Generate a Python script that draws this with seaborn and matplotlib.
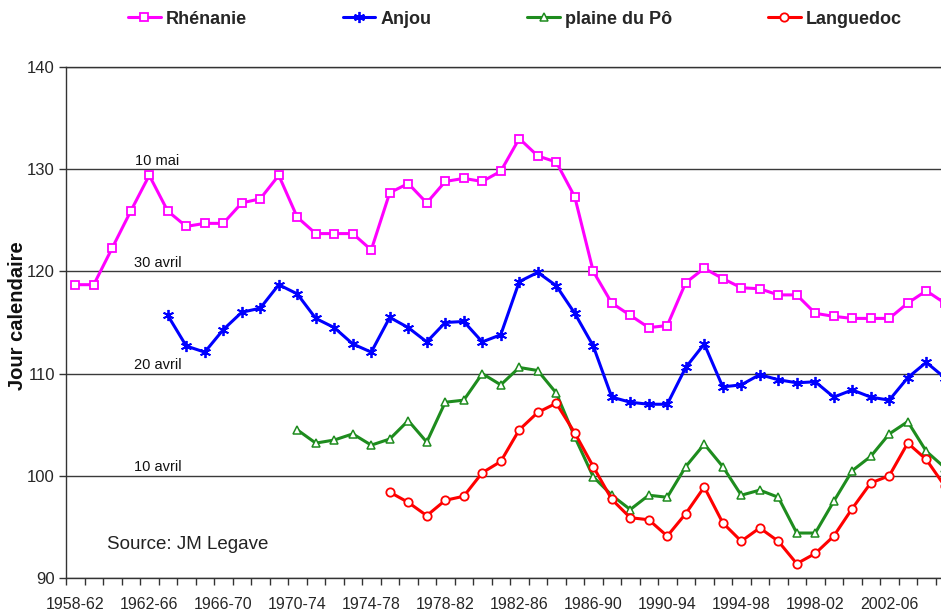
import numpy as np
import matplotlib
matplotlib.use("Agg")
import matplotlib.pyplot as plt
import seaborn as sns

categories = [
    "1958-62", "1959-63", "1960-64", "1961-65", "1962-66", "1963-67", "1964-68", "1965-69",
    "1966-70", "1967-71", "1968-72", "1969-73", "1970-74", "1971-75", "1972-76", "1973-77",
    "1974-78", "1975-79", "1976-80", "1977-81", "1978-82", "1979-83", "1980-84", "1981-85",
    "1982-86", "1983-87", "1984-88", "1985-89", "1986-90", "1987-91", "1988-92", "1989-93",
    "1990-94", "1991-95", "1992-96", "1993-97", "1994-98", "1995-99", "1996-00", "1997-01",
    "1998-02", "1999-03", "2000-04", "2001-05", "2002-06", "2003-07", "2004-08", "2005-09",
]

rhenanie = [118.7, 118.7, 122.3, 125.9, 129.4, 125.9, 124.4, 124.7, 124.7, 126.7,
            127.1, 129.4, 125.3, 123.7, 123.7, 123.7, 122.1, 127.7, 128.6, 126.7,
            128.8, 129.1, 128.8, 129.8, 133.0, 131.3, 130.7, 127.3, 120.0, 116.9,
            115.7, 114.5, 114.7, 118.9, 120.3, 119.3, 118.4, 118.3, 117.7, 117.7,
            115.9, 115.6, 115.4, 115.4, 115.4, 116.9, 118.1, 116.9]

anjou = [None, None, None, None, None, 115.7, 112.7, 112.1, 114.3, 116.0,
         116.4, 118.7, 117.8, 115.4, 114.5, 112.9, 112.1, 115.5, 114.5, 113.1,
         115.0, 115.1, 113.1, 113.8, 119.0, 119.9, 118.6, 115.9, 112.7, 107.7,
         107.2, 107.0, 107.0, 110.6, 112.9, 108.7, 108.9, 109.9, 109.4, 109.1,
         109.2, 107.7, 108.4, 107.7, 107.4, 109.6, 111.1, 109.6]

plaine_po = [None] * 12 + [
    104.5, 103.2, 103.5, 104.1, 103.0, 103.6, 105.4, 103.3,
    107.2, 107.4, 110.0, 108.9, 110.6, 110.3, 108.1, 103.8, 99.9, 98.1,
    96.7, 98.1, 97.9, 100.9, 103.1, 100.9, 98.1, 98.6, 97.9, 94.4,
    94.4, 97.5, 100.5, 101.9, 104.1, 105.3, 102.4, 100.8]

languedoc = [None] * 17 + [
    98.4, 97.4, 96.1,
    97.6, 98.0, 100.3, 101.4, 104.5, 106.2, 107.1, 104.2, 100.9, 97.7,
    95.9, 95.7, 94.1, 96.3, 98.9, 95.4, 93.6, 94.9, 93.6, 91.4,
    92.4, 94.1, 96.8, 99.3, 100.0, 103.2, 101.6, 99.0]

series_names = ["Rhénanie", "Anjou", "plaine du Pô", "Languedoc"]
y_ticks = [90, 100, 110, 120, 130, 140]
ref_lines = [130, 120, 110, 100]
ref_labels = ["10 mai", "30 avril", "20 avril", "10 avril"]

sns.set_theme(style="white")
plt.rcParams["font.family"] = ["Liberation Sans", "DejaVu Sans"]

fig = plt.figure(figsize=(9.41, 6.13), dpi=100)
ax = fig.add_axes([66 / 941, 35 / 613, 888 / 941, 511 / 613])

styles = [
    dict(color="#FF00FF", marker="s", markersize=5.5, markeredgewidth=1.3, markerfacecolor="white"),
    dict(color="#0000FF", marker=(6, 2, 0), markersize=8, markeredgewidth=1.3, markerfacecolor="#0000FF"),
    dict(color="#1E8C1E", marker="^", markersize=6, markeredgewidth=1.1, markerfacecolor="white"),
    dict(color="#FF0000", marker="o", markersize=6, markeredgewidth=1.3, markerfacecolor="white"),
]

x = np.arange(len(categories))
handles = []
for name, vals, st in zip(series_names, [rhenanie, anjou, plaine_po, languedoc], styles):
    y = np.array([np.nan if v is None else v for v in vals], dtype=float)
    m = ~np.isnan(y)
    sns.lineplot(x=x[m], y=y[m], ax=ax, linewidth=2.2, legend=False,
                 markeredgecolor=st["color"], **st)
    handles.append(ax.lines[-1])

ax.set_xlim(-0.5, len(categories) - 0.5)
ax.set_ylim(90, 140)
ax.set_yticks(y_ticks)
ax.yaxis.grid(True, color="#3a3a3a", linewidth=1)
ax.xaxis.grid(False)
ax.set_xticks(x[::4], labels=categories[::4])
ax.set_xticks(np.arange(-0.5, len(categories), 1), minor=True)
ax.tick_params(axis="x", which="major", length=0, pad=14, labelsize=11.5, bottom=True)
ax.tick_params(axis="x", which="minor", length=5, width=1, color="#333333", direction="out", bottom=True)
ax.tick_params(axis="y", which="major", length=5, width=1, color="#333333", direction="out",
               left=True, pad=3, labelsize=12)
for s in ["left", "bottom", "top"]:
    ax.spines[s].set_color("#333333")
    ax.spines[s].set_linewidth(1)
ax.spines["right"].set_visible(False)
ax.set_xlabel("")
ax.set_ylabel("")

for yv, lab in zip(ref_lines, ref_labels):
    ax.text(4.45, yv + 0.45, lab, ha="center", va="baseline", fontsize=10.5, color="#111111")

fig.text(18 / 941, 1 - 316 / 613, "Jour calendaire", rotation=90, ha="center", va="center",
         fontsize=14.5, fontweight="bold", color="#111111")
fig.text(107 / 941, 1 - 549 / 613, "Source: JM Legave", ha="left", va="baseline",
         fontsize=13.5, color="#222222")

fig.legend(handles, series_names, loc="center", bbox_to_anchor=(515 / 941, 1 - 19 / 613),
           ncol=4, frameon=False, prop=dict(weight="bold", size=13), handlelength=1.8,
           handletextpad=0.3, columnspacing=5.3, borderaxespad=0, borderpad=0)

fig.savefig("out.png", dpi=100)
